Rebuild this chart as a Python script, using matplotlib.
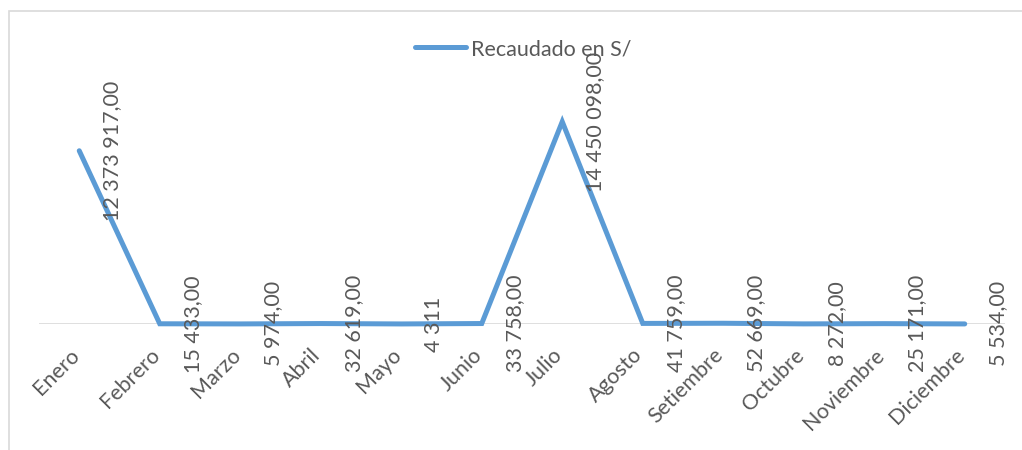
import matplotlib
matplotlib.use('Agg')
from matplotlib import pyplot as plt
from matplotlib.patches import Rectangle
from matplotlib.transforms import ScaledTranslation

months = ['Enero', 'Febrero', 'Marzo', 'Abril', 'Mayo', 'Junio', 'Julio',
          'Agosto', 'Setiembre', 'Octubre', 'Noviembre', 'Diciembre']
recaudado = [12373917, 15433, 5974, 32619, 4311, 33758, 14450098,
             41759, 52669, 8272, 25171, 5534]
value_labels = ['12 373 917,00', '15 433,00', '5 974,00', '32 619,00', '4 311',
                '33 758,00', '14 450 098,00', '41 759,00', '52 669,00',
                '8 272,00', '25 171,00', '5 534,00']

plt.rcParams['font.family'] = ['Lato', 'DejaVu Sans']
text_color = '#595959'
line_color = '#5B9BD5'

fig = plt.figure(figsize=(10.22, 4.5), dpi=100)
fig.patches.append(Rectangle((9 / 1022, -0.2), 1.2, 1.2 - 11 / 450,
                             transform=fig.transFigure, fill=False,
                             edgecolor='#D9D9D9', linewidth=1.2))

ax = fig.add_axes([39 / 1022, (450 - 324) / 450, 966 / 1022, 224 / 450])
x = list(range(len(months)))
ax.plot(x, recaudado, color=line_color, linewidth=3.6,
        solid_capstyle='round', solid_joinstyle='miter', zorder=3,
        label='Recaudado en S/', clip_on=False)
ax.axhline(0, color='#D9D9D9', linewidth=1.2, zorder=1)

for i, (v, lab) in enumerate(zip(recaudado, value_labels)):
    ax.annotate(lab, (i, v), xytext=(33, 0), textcoords='offset pixels',
                rotation=90, ha='center', va='center', color=text_color,
                fontsize=15.5, annotation_clip=False)

ax.set_xlim(-0.5, 11.5)
ax.set_ylim(0, 16000000)
ax.set_yticks([])
ax.set_xticks(x, months, rotation=45, ha='right', va='top')
ax.tick_params(axis='x', length=0, pad=15, labelsize=15.5, labelcolor=text_color)
# nudge month labels a little to the right so they end at the category
shift = ScaledTranslation(4 / 100, 0, fig.dpi_scale_trans)
for t in ax.get_xticklabels():
    t.set_transform(t.get_transform() + shift)
for s in ax.spines.values():
    s.set_visible(False)

leg = fig.legend(loc='center', bbox_to_anchor=(523 / 1022, 1 - 49 / 450),
                 frameon=False, fontsize=15.5, handlelength=2.4,
                 handletextpad=0.2, labelcolor=text_color)

fig.savefig('out.png', dpi=100)
